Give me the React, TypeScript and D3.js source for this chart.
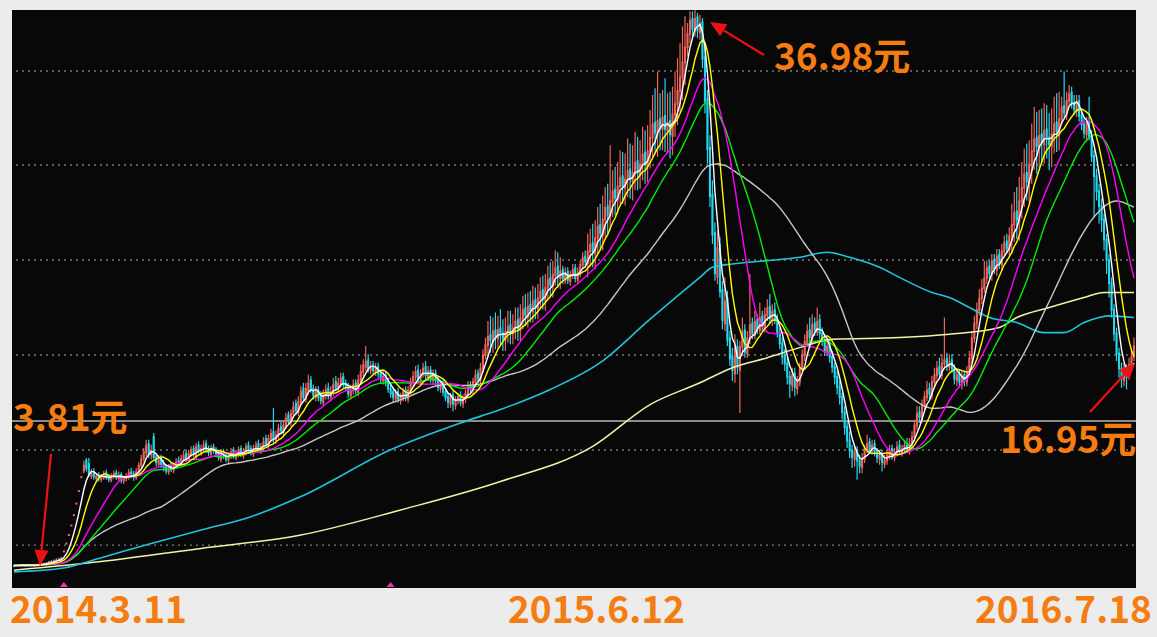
import React from 'react';
import * as d3 from 'd3';

const W = 1157;
const H = 637;
const plot = { left: 12, right: 1136, top: 10, bottom: 588 };

// daily bars (450 sessions)
const closes = [
  3.78, 3.80, 3.79, 3.81, 3.80, 3.79, 3.82, 3.80, 3.81, 3.83,
  3.85, 3.90, 3.88, 3.95, 4.02, 4.00, 4.10, 4.15, 4.12, 4.25,
  4.68, 5.15, 5.66, 6.23, 6.85, 7.54, 8.29, 9.12, 9.80, 9.55,
  9.20, 9.35, 9.05, 9.15, 8.95, 9.10, 9.25, 9.00, 8.90, 9.15,
  9.30, 9.05, 9.20, 8.85, 9.00, 9.10, 9.35, 9.20, 9.05, 9.40,
  9.80, 10.20, 10.60, 11.00, 10.40, 10.70, 10.20, 9.90, 10.10, 9.80,
  9.60, 9.40, 9.70, 9.50, 9.80, 10.00, 9.90, 10.20, 10.40, 10.10,
  10.50, 10.70, 10.40, 10.90, 10.60, 10.80, 11.00, 10.70, 10.50, 10.80,
  10.60, 10.40, 10.20, 10.50, 10.30, 10.10, 10.40, 10.60, 10.30, 10.50,
  10.70, 10.40, 10.60, 10.90, 10.70, 10.50, 10.80, 11.00, 10.70, 10.90,
  11.20, 11.00, 11.40, 11.70, 11.30, 11.60, 12.00, 11.80, 12.20, 12.60,
  12.40, 12.90, 13.30, 13.00, 13.60, 14.20, 13.80, 14.40, 14.70, 14.30,
  13.90, 14.20, 13.80, 13.60, 14.00, 14.30, 13.90, 14.20, 14.60, 14.40,
  14.70, 15.00, 14.60, 14.40, 14.00, 14.30, 14.60, 14.20, 14.90, 15.40,
  15.80, 16.00, 15.50, 15.70, 15.40, 15.60, 15.20, 14.90, 15.10, 14.70,
  14.30, 14.00, 13.80, 14.10, 13.70, 13.90, 14.20, 13.80, 14.30, 14.80,
  15.10, 15.40, 14.90, 15.30, 15.60, 15.10, 15.40, 14.90, 15.20, 14.80,
  14.40, 14.60, 14.10, 13.80, 13.50, 13.90, 13.40, 13.70, 13.90, 13.50,
  13.80, 14.10, 14.50, 14.30, 14.80, 15.20, 14.90, 15.60, 16.40, 17.00,
  17.50, 17.20, 17.80, 17.40, 17.90, 17.60, 17.30, 17.80, 18.10, 17.70,
  18.00, 18.40, 17.90, 18.60, 19.10, 18.70, 19.30, 19.00, 19.60, 19.20,
  19.80, 20.20, 19.70, 20.40, 20.90, 20.50, 21.20, 21.60, 21.00, 21.40,
  20.90, 21.30, 20.80, 21.20, 21.50, 20.90, 21.30, 21.80, 22.20, 21.90,
  22.60, 23.00, 22.50, 23.40, 24.10, 23.60, 24.50, 25.20, 24.70, 25.60,
  26.20, 25.70, 26.50, 27.00, 26.40, 26.90, 27.40, 26.80, 27.30, 27.90,
  27.20, 27.80, 28.40, 27.70, 28.60, 29.40, 30.20, 29.60, 30.40, 29.90,
  30.60, 29.80, 30.30, 29.50, 30.80, 31.40, 32.20, 33.00, 33.90, 34.80,
  35.60, 36.40, 35.80, 36.50, 35.70, 36.20, 34.00, 31.50, 28.60, 25.80,
  23.50, 21.20, 22.80, 20.10, 18.40, 19.60, 17.20, 16.10, 15.40, 16.80,
  15.60, 16.90, 17.80, 16.50, 17.40, 18.20, 17.60, 18.40, 17.90, 18.60,
  18.10, 18.80, 19.20, 18.50, 19.00, 18.40, 17.60, 17.00, 16.20, 15.80,
  15.00, 14.60, 15.20, 14.40, 14.80, 15.60, 16.40, 17.20, 17.80, 17.40,
  18.20, 17.80, 18.40, 17.60, 17.20, 16.60, 16.90, 16.20, 15.60, 15.00,
  14.40, 13.80, 12.90, 12.00, 11.20, 10.60, 10.20, 10.60, 10.00, 9.70,
  10.20, 10.80, 11.10, 10.70, 11.00, 10.50, 10.20, 10.40, 9.90, 10.10,
  10.40, 10.70, 10.30, 10.60, 10.90, 10.60, 10.80, 11.00, 10.70, 11.10,
  11.50, 12.20, 12.90, 12.60, 13.40, 13.90, 14.30, 14.00, 14.80, 15.20,
  15.60, 15.20, 15.90, 16.10, 15.70, 16.00, 15.50, 14.90, 15.20, 14.70,
  15.10, 14.80, 15.40, 16.20, 17.40, 18.30, 19.10, 19.80, 20.40, 21.00,
  21.60, 21.20, 22.00, 21.50, 22.30, 21.80, 22.60, 23.10, 22.70, 23.50,
  24.20, 24.90, 24.40, 25.60, 26.40, 27.20, 26.70, 27.80, 28.60, 29.30,
  28.80, 29.50, 29.00, 29.80, 29.30, 28.90, 29.60, 30.20, 29.70, 30.50,
  31.20, 30.80, 31.60, 32.00, 31.40, 31.00, 31.50, 30.60, 30.10, 29.60,
  30.20, 29.40, 28.20, 27.00, 26.10, 25.20, 24.40, 23.20, 22.00, 20.60,
  19.00, 17.60, 16.40, 15.50, 14.90, 15.40, 15.00, 15.80, 16.30, 16.95,
];

const opens = [
  3.80, 3.78, 3.81, 3.79, 3.82, 3.81, 3.79, 3.83, 3.79, 3.80,
  3.82, 3.84, 3.92, 3.88, 3.94, 4.05, 3.99, 4.08, 4.18, 4.10,
  4.68, 5.15, 5.66, 6.23, 6.85, 7.54, 8.29, 9.12, 9.40, 10.10,
  9.90, 9.10, 9.40, 8.95, 9.20, 8.90, 9.00, 9.35, 9.10, 8.85,
  9.10, 9.35, 8.95, 9.25, 8.80, 8.95, 9.05, 9.40, 9.30, 9.00,
  9.35, 9.75, 10.15, 10.50, 11.10, 10.35, 11.50, 10.30, 9.80, 10.20,
  9.90, 9.70, 9.35, 9.80, 9.45, 9.70, 10.10, 9.85, 10.10, 10.50,
  10.05, 10.40, 10.80, 10.30, 11.00, 10.50, 10.70, 11.10, 10.80, 10.40,
  10.90, 10.70, 10.50, 10.10, 10.60, 10.40, 10.05, 10.30, 10.70, 10.20,
  10.40, 10.80, 10.30, 10.50, 11.00, 10.80, 10.40, 10.70, 11.10, 10.60,
  10.80, 11.40, 10.90, 11.30, 11.80, 11.20, 11.50, 12.10, 11.70, 12.10,
  12.80, 12.30, 12.80, 13.50, 12.90, 13.50, 14.40, 13.70, 14.20, 14.90,
  14.40, 13.80, 14.30, 14.00, 13.50, 13.90, 14.40, 13.80, 14.10, 14.80,
  14.30, 14.60, 15.10, 14.70, 14.50, 13.90, 14.20, 14.70, 14.10, 14.80,
  15.30, 15.60, 16.10, 15.40, 15.80, 15.30, 15.70, 15.30, 14.80, 15.20,
  14.80, 14.40, 14.20, 13.70, 14.20, 13.60, 13.80, 14.30, 13.70, 14.20,
  14.70, 15.00, 15.50, 14.80, 15.20, 15.70, 15.00, 15.50, 14.80, 15.30,
  14.90, 14.30, 14.70, 14.20, 13.90, 13.40, 14.00, 13.30, 13.60, 14.00,
  13.40, 13.70, 14.00, 14.60, 14.20, 14.70, 15.30, 14.80, 15.50, 16.30,
  16.90, 17.60, 17.10, 17.90, 17.30, 18.00, 17.70, 17.20, 17.70, 18.20,
  17.60, 17.90, 18.50, 17.80, 18.50, 19.20, 18.60, 19.40, 18.90, 19.70,
  19.10, 19.70, 20.30, 19.60, 20.30, 21.00, 20.40, 21.10, 21.70, 20.90,
  21.50, 20.80, 21.40, 20.70, 21.10, 21.60, 20.80, 21.20, 21.70, 22.30,
  21.80, 22.50, 23.10, 22.40, 23.30, 24.20, 23.50, 24.40, 25.30, 24.60,
  25.50, 26.30, 25.60, 26.40, 27.10, 26.30, 26.80, 27.50, 26.70, 27.20,
  28.00, 27.10, 27.70, 28.50, 27.60, 28.50, 29.30, 30.30, 29.50, 30.50,
  29.80, 30.70, 29.70, 30.40, 29.40, 30.70, 31.30, 32.10, 32.90, 33.80,
  34.70, 35.50, 36.50, 35.70, 36.60, 35.60, 36.30, 34.20, 31.70, 28.80,
  26.00, 23.70, 21.00, 23.00, 20.30, 18.20, 19.80, 17.40, 16.30, 15.20,
  16.90, 15.40, 16.80, 17.90, 16.40, 17.30, 18.30, 17.50, 18.50, 17.80,
  18.70, 18.00, 18.70, 19.30, 18.40, 19.10, 18.50, 17.70, 17.10, 16.40,
  15.90, 15.10, 14.50, 15.30, 14.30, 14.70, 15.50, 16.30, 17.10, 17.90,
  17.30, 18.30, 17.70, 18.50, 17.70, 17.30, 16.50, 17.00, 16.30, 15.70,
  15.10, 14.50, 13.90, 13.00, 12.10, 11.30, 10.70, 10.10, 10.70, 10.10,
  9.60, 10.10, 10.70, 11.20, 10.60, 11.10, 10.60, 10.10, 10.50, 9.80,
  10.00, 10.30, 10.80, 10.20, 10.50, 11.00, 10.50, 10.70, 11.10, 10.60,
  11.00, 11.40, 12.10, 13.00, 12.50, 13.30, 13.80, 14.40, 13.90, 14.70,
  15.10, 15.70, 15.10, 15.80, 16.20, 15.60, 16.10, 15.60, 14.80, 15.30,
  14.60, 15.20, 14.70, 15.30, 16.10, 17.30, 18.20, 19.00, 19.70, 20.30,
  20.90, 21.70, 21.10, 22.10, 21.40, 22.40, 21.70, 22.50, 23.20, 22.60,
  23.40, 24.10, 25.00, 24.30, 25.50, 26.30, 27.30, 26.60, 27.70, 28.50,
  29.40, 28.70, 29.60, 28.90, 29.90, 29.40, 28.80, 29.50, 30.30, 29.60,
  30.40, 31.30, 30.70, 31.50, 32.10, 31.50, 30.90, 31.60, 30.70, 30.20,
  29.50, 30.30, 29.50, 28.30, 27.10, 26.20, 25.30, 24.50, 23.30, 22.10,
  20.70, 19.10, 17.70, 16.50, 15.60, 14.80, 15.50, 15.10, 15.70, 16.20,
];

const highs = [
  3.83, 3.82, 3.83, 3.84, 3.83, 3.83, 3.84, 3.85, 3.83, 3.86,
  3.88, 3.94, 3.95, 3.98, 4.06, 4.10, 4.14, 4.22, 4.24, 4.30,
  4.68, 5.15, 5.66, 6.23, 6.85, 7.54, 8.29, 9.12, 10.05, 10.20,
  10.20, 9.55, 9.60, 9.30, 9.35, 9.25, 9.45, 9.50, 9.25, 9.30,
  9.45, 9.50, 9.40, 9.35, 9.15, 9.30, 9.55, 9.60, 9.45, 9.60,
  9.95, 10.40, 10.80, 11.30, 11.30, 11.00, 11.70, 10.50, 10.40, 10.40,
  10.10, 9.85, 9.85, 9.95, 9.95, 10.20, 10.30, 10.40, 10.65, 10.70,
  10.70, 10.90, 10.95, 11.10, 11.20, 11.00, 11.25, 11.30, 10.95, 11.00,
  11.05, 10.85, 10.65, 10.70, 10.75, 10.55, 10.55, 10.80, 10.85, 10.70,
  10.90, 10.95, 10.80, 11.10, 11.20, 10.95, 11.00, 11.20, 11.30, 11.10,
  11.45, 11.60, 11.60, 11.95, 13.20, 11.85, 12.25, 12.35, 12.45, 12.90,
  13.00, 13.10, 13.60, 13.70, 13.90, 14.50, 14.70, 14.70, 15.20, 15.10,
  14.60, 14.50, 14.50, 14.20, 14.30, 14.60, 14.70, 14.50, 15.00, 15.10,
  15.00, 15.30, 15.30, 14.90, 14.70, 14.60, 14.90, 14.90, 15.20, 15.80,
  16.10, 16.90, 16.40, 16.00, 16.00, 15.90, 15.90, 15.50, 15.40, 15.40,
  15.00, 14.60, 14.40, 14.30, 14.40, 14.10, 14.40, 14.50, 14.50, 15.00,
  15.40, 15.70, 15.80, 15.50, 15.90, 16.00, 15.70, 15.70, 15.50, 15.50,
  15.10, 14.90, 14.90, 14.40, 14.10, 14.10, 14.20, 13.90, 14.10, 14.20,
  14.00, 14.30, 14.80, 14.80, 15.00, 15.50, 15.50, 15.90, 16.70, 17.40,
  18.40, 18.70, 18.60, 18.90, 18.70, 19.10, 18.50, 18.60, 19.00, 19.00,
  18.80, 19.20, 19.20, 19.40, 19.90, 20.00, 20.10, 20.20, 20.50, 20.40,
  20.60, 21.00, 21.10, 21.20, 21.70, 21.90, 22.00, 22.60, 22.50, 22.20,
  21.70, 21.60, 21.60, 21.40, 21.80, 21.80, 21.60, 22.00, 22.50, 22.60,
  23.60, 23.90, 24.20, 24.40, 25.20, 25.40, 25.90, 26.40, 26.60, 28.90,
  27.40, 27.60, 27.90, 28.60, 28.50, 28.40, 29.30, 29.00, 28.90, 29.70,
  29.40, 29.20, 30.00, 29.80, 30.10, 31.00, 31.90, 32.30, 33.30, 32.00,
  32.20, 32.90, 32.00, 32.10, 32.40, 33.30, 34.10, 35.00, 36.00, 36.60,
  36.20, 36.90, 36.90, 36.98, 36.80, 36.70, 36.50, 34.80, 32.20, 29.50,
  26.80, 24.30, 23.80, 23.40, 20.80, 21.00, 20.20, 17.80, 16.80, 17.60,
  17.30, 17.20, 18.60, 18.20, 17.80, 21.20, 18.60, 19.00, 18.80, 19.50,
  19.00, 19.20, 19.70, 20.00, 19.40, 19.50, 18.80, 18.00, 17.40, 16.70,
  16.20, 15.40, 15.60, 15.60, 15.10, 15.90, 16.70, 17.60, 18.20, 18.60,
  18.80, 18.60, 19.20, 18.80, 18.00, 17.60, 17.40, 17.30, 16.60, 15.90,
  15.40, 14.80, 14.10, 13.30, 12.40, 11.80, 11.00, 11.00, 10.90, 10.40,
  10.50, 11.00, 11.60, 11.40, 11.30, 11.30, 10.80, 10.70, 10.70, 10.40,
  10.70, 11.00, 11.00, 10.80, 11.20, 11.30, 11.00, 11.30, 11.40, 11.40,
  11.80, 12.50, 13.30, 13.30, 13.70, 14.20, 14.80, 14.70, 15.10, 15.60,
  16.00, 16.20, 16.40, 18.60, 16.50, 16.40, 16.40, 15.80, 15.50, 15.50,
  15.40, 15.40, 15.70, 16.60, 17.80, 18.70, 19.50, 20.30, 20.90, 22.00,
  22.00, 22.00, 22.40, 22.40, 22.70, 22.70, 23.00, 23.50, 23.60, 24.00,
  25.40, 26.10, 26.40, 27.00, 27.90, 28.70, 29.00, 29.20, 30.20, 31.20,
  30.90, 31.00, 31.10, 31.40, 31.30, 30.80, 31.10, 31.80, 32.00, 32.10,
  31.80, 33.30, 32.10, 32.50, 32.40, 31.90, 31.90, 31.90, 31.00, 30.60,
  30.60, 31.80, 29.80, 28.60, 27.50, 26.60, 25.70, 24.80, 23.60, 22.40,
  21.00, 19.40, 18.00, 16.80, 15.90, 15.90, 15.80, 16.20, 16.70, 17.40,
];

const lows = [
  3.76, 3.76, 3.77, 3.77, 3.78, 3.77, 3.77, 3.78, 3.77, 3.78,
  3.80, 3.82, 3.85, 3.86, 3.92, 3.97, 3.96, 4.04, 4.08, 4.06,
  4.68, 5.15, 5.66, 6.23, 6.85, 7.54, 8.29, 9.12, 9.30, 9.40,
  9.05, 8.95, 8.90, 8.80, 8.80, 8.75, 8.90, 8.90, 8.75, 8.75,
  8.95, 8.90, 8.80, 8.70, 8.65, 8.80, 8.90, 9.00, 8.85, 8.90,
  9.25, 9.60, 10.00, 10.30, 10.20, 10.10, 10.10, 9.70, 9.65, 9.60,
  9.40, 9.25, 9.20, 9.35, 9.30, 9.55, 9.70, 9.70, 9.95, 9.95,
  9.90, 10.25, 10.25, 10.15, 10.45, 10.35, 10.55, 10.50, 10.30, 10.25,
  10.45, 10.25, 10.05, 9.95, 10.15, 9.95, 9.90, 10.15, 10.15, 10.05,
  10.25, 10.25, 10.15, 10.35, 10.55, 10.35, 10.25, 10.55, 10.55, 10.45,
  10.65, 10.85, 10.75, 11.15, 11.10, 11.05, 11.35, 11.60, 11.55, 11.95,
  12.20, 12.10, 12.60, 12.80, 12.70, 13.30, 13.60, 13.50, 14.00, 14.10,
  13.70, 13.60, 13.60, 13.40, 13.30, 13.70, 13.70, 13.60, 13.90, 14.20,
  14.10, 14.40, 14.40, 14.20, 13.80, 13.70, 14.00, 14.00, 13.90, 14.60,
  15.10, 15.40, 15.30, 15.20, 15.20, 15.10, 15.00, 14.70, 14.60, 14.50,
  14.10, 13.80, 13.50, 13.50, 13.50, 13.40, 13.60, 13.60, 13.50, 14.00,
  14.50, 14.80, 14.70, 14.60, 15.00, 14.90, 14.80, 14.70, 14.60, 14.50,
  14.20, 14.10, 13.90, 13.60, 13.20, 13.20, 13.00, 13.10, 13.40, 13.30,
  13.20, 13.50, 13.80, 14.10, 14.00, 14.50, 14.70, 14.60, 15.30, 16.10,
  16.20, 16.50, 16.50, 16.70, 16.70, 16.90, 16.60, 16.60, 17.10, 17.00,
  17.00, 17.30, 17.20, 17.20, 17.90, 18.10, 18.00, 18.30, 18.30, 18.50,
  18.50, 19.10, 19.10, 19.00, 19.70, 19.80, 19.80, 20.50, 20.40, 20.30,
  20.60, 20.60, 20.60, 20.50, 20.90, 20.70, 20.60, 21.00, 21.50, 21.60,
  21.00, 21.60, 21.60, 21.50, 22.40, 22.60, 22.60, 23.40, 23.60, 23.80,
  24.60, 24.70, 24.80, 25.40, 25.40, 25.30, 25.80, 25.70, 25.60, 26.20,
  26.20, 26.30, 26.80, 26.60, 26.70, 27.50, 28.20, 28.40, 28.20, 28.60,
  28.60, 28.50, 28.40, 28.10, 28.30, 29.40, 30.10, 30.90, 31.60, 32.50,
  34.20, 35.00, 35.30, 35.40, 35.30, 35.20, 33.50, 30.80, 27.80, 25.20,
  23.00, 20.80, 20.60, 19.80, 17.90, 17.80, 16.90, 15.70, 14.80, 14.70,
  15.20, 12.90, 16.50, 16.20, 16.20, 17.00, 17.30, 17.30, 17.60, 17.60,
  17.80, 17.70, 18.40, 18.20, 18.10, 18.20, 17.40, 16.70, 15.80, 15.40,
  14.60, 13.80, 14.20, 13.90, 14.00, 14.50, 15.30, 16.00, 16.90, 17.10,
  17.00, 17.50, 17.50, 17.30, 16.90, 16.30, 16.30, 15.90, 15.30, 14.60,
  14.00, 13.40, 12.50, 11.60, 10.80, 10.20, 9.60, 9.70, 8.90, 9.30,
  9.30, 9.90, 10.50, 10.50, 10.40, 10.30, 9.90, 9.80, 9.40, 9.60,
  9.80, 10.10, 10.10, 10.00, 10.30, 10.40, 10.30, 10.50, 10.50, 10.40,
  10.80, 11.20, 11.90, 12.30, 12.30, 13.10, 13.60, 13.70, 13.70, 14.50,
  14.90, 15.00, 14.90, 15.50, 15.40, 15.40, 15.30, 14.60, 14.50, 14.40,
  14.30, 14.50, 14.50, 15.10, 15.90, 17.10, 17.90, 18.70, 19.40, 20.10,
  20.60, 20.90, 20.80, 21.20, 21.10, 21.50, 21.40, 22.20, 22.40, 22.30,
  22.40, 23.10, 23.30, 23.20, 24.50, 25.20, 25.60, 25.50, 26.60, 27.40,
  27.20, 27.50, 27.80, 27.80, 28.10, 27.40, 27.60, 28.40, 28.50, 28.60,
  30.10, 30.50, 30.40, 31.20, 31.10, 30.70, 30.60, 30.30, 29.80, 29.30,
  29.10, 29.20, 27.90, 24.60, 25.60, 24.20, 23.70, 22.60, 21.20, 19.80,
  18.60, 17.20, 16.00, 15.00, 14.40, 14.50, 14.30, 14.90, 15.40, 16.00,
];

// long averages depend on history before the window, read as [session, value]
const ma120 = [
  [0, 3.4], [20, 3.63], [34, 4.2], [55, 5.1], [75, 5.9], [95, 6.7], [115, 7.9],
  [151, 10.7], [179, 12.3], [195, 13.1], [215, 14.3], [235, 15.9], [255, 18.5],
  [275, 21.0], [280, 21.6], [288, 21.8], [302, 22.0], [315, 22.2], [326, 22.5],
  [335, 22.2], [347, 21.6], [355, 21.0], [368, 20.1], [375, 19.8], [383, 19.2],
  [391, 18.6], [402, 18.3], [413, 17.7], [421, 17.7], [429, 18.3], [435, 18.6],
  [439, 18.7], [449, 18.6],
];
const ma250 = [
  [0, 3.5], [34, 4.0], [75, 4.8], [115, 5.6], [155, 7.1], [195, 8.8], [232, 10.9],
  [255, 13.4], [275, 14.7], [288, 15.6], [302, 16.2], [315, 16.8], [328, 17.3],
  [355, 17.4], [375, 17.6], [395, 18.0], [402, 18.6], [415, 19.2], [429, 19.8],
  [437, 20.1], [449, 20.1],
];

const maPeriods = [60, 30, 20, 10, 5];
const maColors: Record<number, string> = { 5: '#ffffff', 10: '#ffff00', 20: '#ff00ff', 30: '#00ee00', 60: '#c8c8c8' };

const gridPrices = [5.0, 10.68, 16.36, 22.04, 27.72, 33.33];
const refPrice = 12.42;
const markers = [20, 151];

const labels = [
  { text: '3.81元', x: 13, y: 431, size: 37 },
  { text: '36.98元', x: 774, y: 70, size: 37 },
  { text: '16.95元', x: 1000, y: 453, size: 37 },
  { text: '2014.3.11', x: 10, y: 623, size: 37 },
  { text: '2015.6.12', x: 508, y: 623, size: 37 },
  { text: '2016.7.18', x: 975, y: 623, size: 37 },
];

// [tail x, tail y, tip x, tip y]
const arrows = [
  [51, 454, 40, 566],
  [764, 55, 710, 22],
  [1090, 412, 1135, 363],
];

const x = d3.scaleLinear().domain([0, closes.length - 1]).range([14, 1134]);
const y = d3.scaleLinear().domain([2.435, 36.98]).range([plot.bottom, plot.top]);

const movingAvg = (n: number) =>
  closes.map((_, i) => d3.mean(closes.slice(Math.max(0, i - n + 1), i + 1)) as number);

const line = d3.line<[number, number]>().x(d => x(d[0])).y(d => y(d[1]));
const smooth = d3.line<number[]>().x(d => x(d[0])).y(d => y(d[1])).curve(d3.curveMonotoneX);

const arrowPath = (a: number[]) => {
  const [x0, y0, x1, y1] = a;
  const ang = Math.atan2(y1 - y0, x1 - x0);
  const len = 16, half = 7;
  const bx = x1 - len * Math.cos(ang), by = y1 - len * Math.sin(ang);
  const px = -Math.sin(ang) * half, py = Math.cos(ang) * half;
  return {
    shaft: `M${x0},${y0}L${bx},${by}`,
    head: `M${x1},${y1}L${bx + px},${by + py}L${bx - px},${by - py}Z`,
  };
};

export default function App() {
  const body = 2.1;
  return (
    <svg width={W} height={H} style={{ position: 'absolute', left: 0, top: 0 }}>
      <rect width={W} height={H} fill="#ececec" />
      <rect x={plot.left} y={plot.top} width={plot.right - plot.left} height={plot.bottom - plot.top} fill="#080808" />
      <clipPath id="plotclip">
        <rect x={plot.left} y={plot.top} width={plot.right - plot.left} height={plot.bottom - plot.top} />
      </clipPath>

      {gridPrices.map(p => (
        <line key={p} x1={plot.left + 4} x2={plot.right} y1={y(p)} y2={y(p)}
          stroke="#7a7a7a" strokeWidth={1.4} strokeDasharray="2 4" />
      ))}
      <line x1={plot.left} x2={plot.right} y1={y(refPrice)} y2={y(refPrice)} stroke="#8c8c8c" strokeWidth={2} />

      <g clipPath="url(#plotclip)">
        {closes.map((c, i) => {
          const o = opens[i];
          const up = c >= o;
          const col = up ? '#f0645a' : '#22d8ee';
          const top = y(Math.max(o, c));
          const h = Math.max(2, y(Math.min(o, c)) - top);
          return (
            <g key={i}>
              <line x1={x(i)} x2={x(i)} y1={y(Math.min(lows[i], o, c))} y2={y(Math.max(highs[i], o, c))}
                stroke={col} strokeWidth={1.2} />
              <rect x={x(i) - body / 2} y={top} width={body} height={h} fill={col} />
            </g>
          );
        })}

        <path d={smooth(ma250) || ''} fill="none" stroke="#f2f2a8" strokeWidth={1.5} />
        <path d={smooth(ma120) || ''} fill="none" stroke="#1ec4dc" strokeWidth={1.6} />
        {maPeriods.map(n => {
          const pts = movingAvg(n).map((v, i) => [i, v] as [number, number]);
          return <path key={n} d={line(pts) || ''} fill="none" stroke={maColors[n]} strokeWidth={1.4} />;
        })}
      </g>

      {markers.map(i => (
        <path key={'m' + i} d={`M${x(i)},${plot.bottom - 6}L${x(i) - 4},${plot.bottom - 1}L${x(i) + 4},${plot.bottom - 1}Z`} fill="#ff2bb0" />
      ))}

      {arrows.map((a, k) => {
        const p = arrowPath(a);
        return (
          <g key={'a' + k}>
            <path d={p.shaft} stroke="#ee1111" strokeWidth={2.2} fill="none" />
            <path d={p.head} fill="#ee1111" />
          </g>
        );
      })}

      {labels.map(l => (
        <text key={l.text} x={l.x} y={l.y} fontSize={l.size} fontWeight={700}
          fontFamily="'Noto Sans CJK SC', 'Noto Sans', sans-serif" fill="#f47c10">
          {l.text}
        </text>
      ))}
    </svg>
  );
}
